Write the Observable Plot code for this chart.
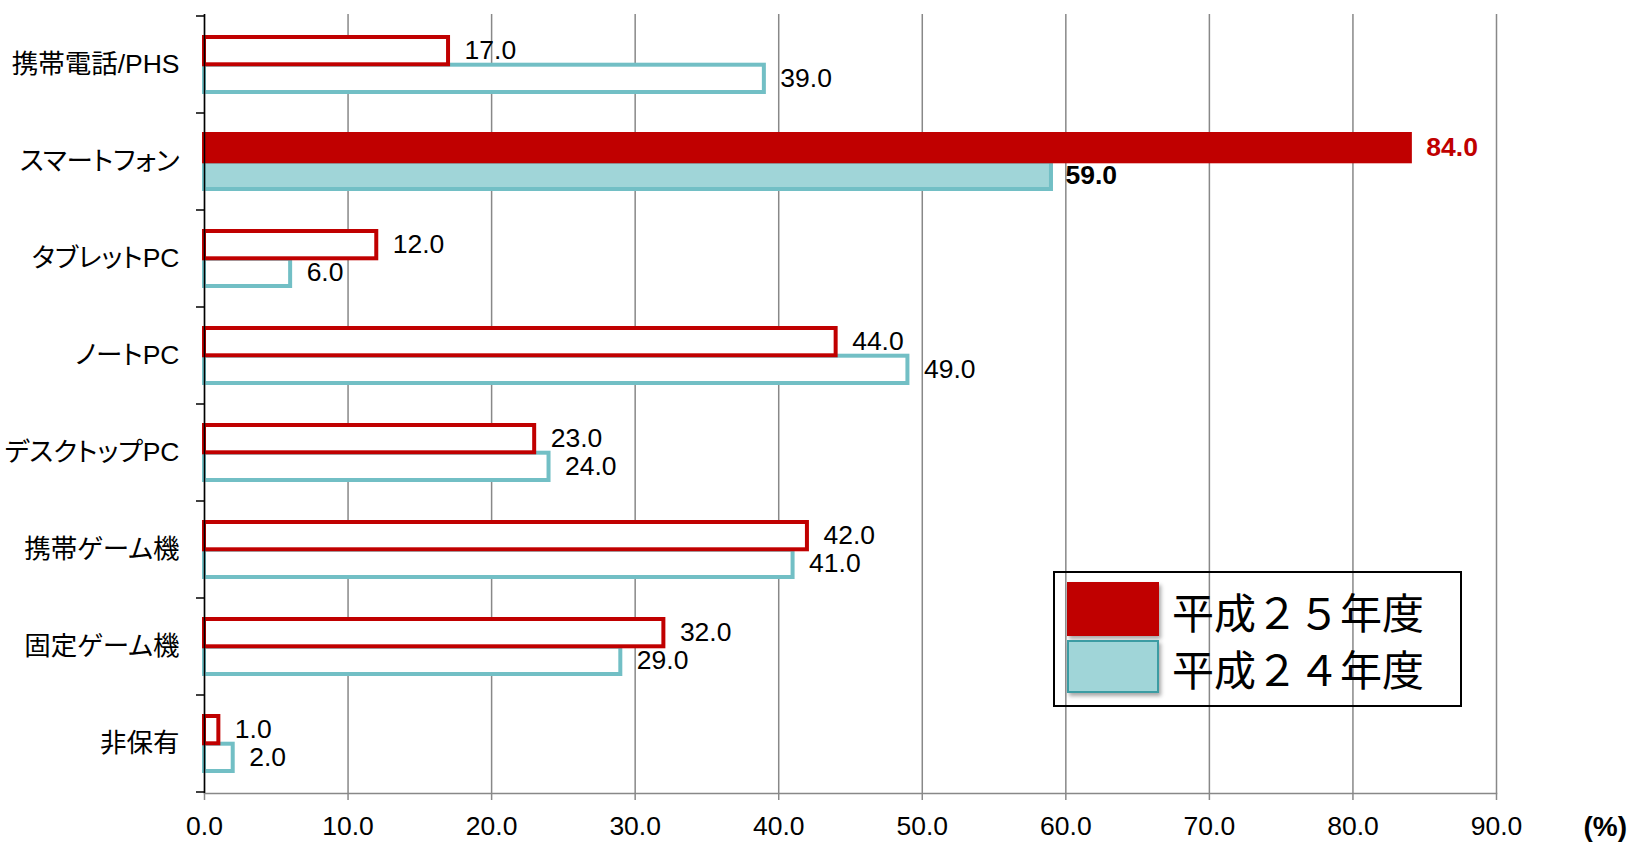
<!DOCTYPE html>
<html lang="ja">
<head>
<meta charset="utf-8">
<script src="https://cdn.jsdelivr.net/npm/d3@7"></script>
<script src="https://cdn.jsdelivr.net/npm/@observablehq/plot@0.6"></script>
<style>
  html, body { margin: 0; padding: 0; background: #fff; }
  #wrap { position: relative; width: 1634px; height: 842px; }
  #wrap svg text { font-feature-settings: "palt"; }
  .legend {
    position: absolute; left: 1053px; top: 571px; width: 405px; height: 132px;
    border: 2px solid #000; background: transparent;
    font-family: "Noto Sans CJK JP", sans-serif; font-size: 42px; color: #000;
    font-feature-settings: "fwid";
  }
  .legend .sw { position: absolute; left: 12px; width: 92px; box-shadow: 2px 3px 4px rgba(0,0,0,0.35); box-sizing: border-box; }
  .legend .lab { position: absolute; left: 117px; line-height: 1; white-space: nowrap; }
</style>
</head>
<body>
<div id="wrap"></div>
<script>
// Device ownership by survey year (%)
const categories = ["携帯電話/PHS", "スマートフォン", "タブレットPC", "ノートPC", "デスクトップPC", "携帯ゲーム機", "固定ゲーム機", "非保有"];
const seriesNames = ["平成25年度", "平成24年度"];
const valuesH25 = [17.0, 84.0, 12.0, 44.0, 23.0, 42.0, 32.0, 1.0];
const valuesH24 = [39.0, 59.0, 6.0, 49.0, 24.0, 41.0, 29.0, 2.0];
const xTicks = [0, 10, 20, 30, 40, 50, 60, 70, 80, 90];
const unitLabel = "(%)";
const highlight = "スマートフォン";

const RED = "#C00000";
const TEAL = "#72BFC5";
const TEAL_FILL = "#A0D5D8";
const TEAL_DARK = "#3C9CA3";
const GRID = "#888888";

const rows25 = categories.map((cat, i) => ({cat, series: seriesNames[0], value: valuesH25[i]}));
const rows24 = categories.map((cat, i) => ({cat, series: seriesNames[1], value: valuesH24[i]}));

const isHi = d => d.cat === highlight;
const notHi = d => d.cat !== highlight;
const fmt = v => v.toFixed(1);

const FONT = `"Liberation Sans", Arial, "Noto Sans CJK JP", sans-serif`;
const FS = 26.5;

const chart = Plot.plot({
  width: 1634,
  height: 842,
  marginTop: 14,
  marginRight: 138,
  marginBottom: 49,
  marginLeft: 204,
  style: {fontFamily: FONT, fontSize: FS + "px", color: "#000", background: "#fff", overflow: "visible"},
  x: {domain: [0, 90]},
  y: {domain: categories, padding: 0},
  marks: [
    Plot.gridX(xTicks, {stroke: GRID, strokeOpacity: 1, strokeWidth: 1.5}),
    Plot.frame({anchor: "bottom", stroke: GRID, strokeWidth: 1.5}),
    // previous year (lower bar of each pair)
    Plot.barX(rows24, {filter: notHi, x: "value", y: "cat", insetTop: 48.7, insetBottom: 21, fill: "#fff", stroke: TEAL, strokeWidth: 4}),
    Plot.barX(rows24, {filter: isHi, x: "value", y: "cat", insetTop: 48.7, insetBottom: 21, fill: TEAL_FILL, stroke: TEAL, strokeWidth: 4}),
    // current year (upper bar of each pair)
    Plot.barX(rows25, {filter: notHi, x: "value", y: "cat", insetTop: 21, insetBottom: 48.7, fill: "#fff", stroke: RED, strokeWidth: 4}),
    Plot.barX(rows25, {filter: isHi, x: "value", y: "cat", insetTop: 21, insetBottom: 48.7, fill: RED, stroke: RED, strokeWidth: 4}),
    // value labels
    Plot.text(rows25, {filter: notHi, x: "value", y: "cat", text: d => fmt(d.value), dx: 16, dy: -14, textAnchor: "start", fill: "#000"}),
    Plot.text(rows24, {filter: notHi, x: "value", y: "cat", text: d => fmt(d.value), dx: 16, dy: 14, textAnchor: "start", fill: "#000"}),
    Plot.text(rows25, {filter: isHi, x: "value", y: "cat", text: d => fmt(d.value), dx: 16, dy: -14, textAnchor: "start", fill: RED, fontWeight: "bold"}),
    Plot.text(rows24, {filter: isHi, x: "value", y: "cat", text: d => fmt(d.value), dx: 14, dy: 14, textAnchor: "start", fill: "#000", fontWeight: "bold"}),
    Plot.ruleX([0], {stroke: "#000", strokeWidth: 1.5}),
    Plot.axisX({ticks: xTicks, tickFormat: fmt, tickSize: 7, tickPadding: 16, stroke: GRID, strokeWidth: 1.5, label: null, fontSize: FS}),
    Plot.axisY({tickSize: 0, tickPadding: 25, label: null, fontSize: FS}),
    Plot.text([unitLabel], {frameAnchor: "bottom-right", lineAnchor: "middle", dx: 87, dy: 34, textAnchor: "start", fontWeight: "bold", fontSize: 28})
  ]
});

// category separators on the y axis, at band edges
const ys = chart.scale("y");
const x0 = chart.scale("x").apply(0);
const edges = categories.map(c => ys.apply(c));
edges.push(ys.apply(categories[categories.length - 1]) + ys.bandwidth);
d3.select(chart).append("g")
  .attr("stroke", "#000").attr("stroke-width", 1.5)
  .selectAll("line").data(edges).join("line")
  .attr("x1", x0 - 8).attr("x2", x0)
  .attr("y1", d => d).attr("y2", d => d);

const wrap = document.getElementById("wrap");
wrap.appendChild(chart);

// legend
const legendItems = [
  {name: seriesNames[0], fill: RED, border: RED, top: 9, h: 54, labelTop: 17},
  {name: seriesNames[1], fill: TEAL_FILL, border: TEAL_DARK, top: 67, h: 53, labelTop: 74}
];
const lg = document.createElement("div");
lg.className = "legend";
for (const it of legendItems) {
  const sw = document.createElement("div");
  sw.className = "sw";
  sw.style.top = it.top + "px";
  sw.style.height = it.h + "px";
  sw.style.background = it.fill;
  sw.style.border = `2px solid ${it.border}`;
  lg.appendChild(sw);
  const lab = document.createElement("div");
  lab.className = "lab";
  lab.style.top = it.labelTop + "px";
  lab.textContent = it.name;
  lg.appendChild(lab);
}
wrap.appendChild(lg);
</script>
</body>
</html>
